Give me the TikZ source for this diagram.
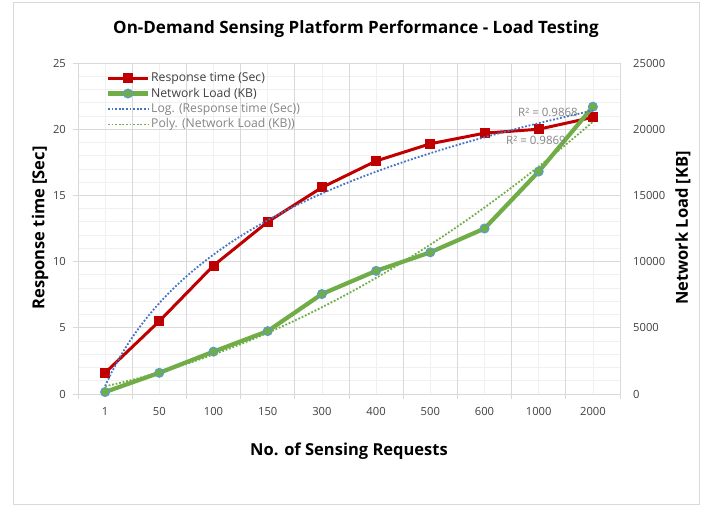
\documentclass[tikz,border=0pt]{standalone}
\usepackage{fontspec}
\setmainfont{Open Sans}
\usetikzlibrary{positioning}
\definecolor{rtred}{HTML}{C00000}
\definecolor{nlgreen}{HTML}{70AD47}
\definecolor{nlblue}{HTML}{5B9BD5}
\definecolor{trblue}{HTML}{4472C4}
\definecolor{gridmaj}{HTML}{D9D9D9}
\definecolor{gridmin}{HTML}{F0F0F0}
\definecolor{ticktxt}{HTML}{404040}
\definecolor{lgray}{HTML}{858585}
\tikzset{
  ticklab/.style={font=\fontsize{11.2}{13}\selectfont, text=ticktxt, inner sep=0pt},
  axtitle/.style={font=\fontsize{16.5}{18}\selectfont\bfseries, inner sep=0pt},
  legtext/.style={font=\fontsize{12.2}{14}\selectfont, inner sep=0pt, anchor=west},
  rtline/.style={rtred, line width=3pt},
  nlline/.style={nlgreen, line width=4.2pt, line join=round},
  rtmark/.style={fill=rtred, minimum size=10pt, inner sep=0pt},
  nlmark/.style={circle, fill=nlgreen, draw=nlblue, line width=1pt, minimum size=9pt, inner sep=0pt},
  logtrend/.style={trblue, line width=1.8pt, dash pattern=on 1.8pt off 1.8pt},
  polytrend/.style={nlgreen, line width=1.8pt, dash pattern=on 1.8pt off 1.8pt},
}
\begin{document}
\begin{tikzpicture}[x=1pt,y=-1pt]
	\useasboundingbox (0,0) rectangle (715,506);
	\fill[white] (0,0) rectangle (715,506);
	\draw[gridmaj, line width=1pt] (13,2.5) rectangle (699,504.5);
	\node[font=\fontsize{17}{20}\selectfont\bfseries, anchor=base, inner sep=0pt] (title) at (356,33) {On-Demand Sensing Platform Performance - Load Testing};
	\node[axtitle, rotate=90] (ytitle) at (40,228) {Response time [Sec]};
	\node[axtitle, rotate=90] (y2title) at (683,228) {Network Load [KB]};
	\node[axtitle, anchor=base] (xtitle) at (349,455) {No. of Sensing Requests};
	\begin{scope}[shift={(78,394)}, x=54.2pt, y=13.24pt]
		\foreach \k in {0,...,25} \draw[gridmin, line width=0.8pt] (0,\k) -- (10,\k);
		\foreach \k in {0.5,1.5,...,9.5} \draw[gridmin, line width=0.8pt] (\k,0) -- (\k,25);
		\foreach \k in {0,5,...,25} \draw[gridmaj, line width=0.8pt] (-0.09,\k) -- (10,\k);
		\foreach \k in {0,...,10} \draw[gridmaj, line width=0.8pt] (\k,-0.35) -- (\k,25);
		\foreach \k in {0,5,...,25} \node[ticklab, anchor=east] (yl\k) at (-0.22,\k) {\k};
		\foreach \k/\t in {0/0,5/5000,10/10000,15/15000,20/20000,25/25000}
			\node[ticklab, anchor=west] (yr\k) at (10.24,\k) {\t};
		\foreach \t [count=\i] in {1,50,100,150,300,400,500,600,1000,2000}
			\node[ticklab, anchor=base] (xl\i) at (\i-0.5,-1.6) {\t};
		\foreach \v [count=\i] in {1.6,5.5,9.7,13.0,15.6,17.6,18.9,19.7,20.0,20.9}
			\coordinate (rt\i) at (\i-0.5,\v);
		\foreach \v [count=\i] in {0.15,1.6,3.2,4.75,7.55,9.3,10.7,12.5,16.8,21.7}
			\coordinate (nl\i) at (\i-0.5,\v);
		\draw[rtline] (rt1) \foreach \i in {2,...,10}{-- (rt\i)};
		\foreach \i in {1,...,10} \node[rtmark] at (rt\i) {};
		\draw[nlline] (nl1) \foreach \i in {2,...,10}{-- (nl\i)};
		\foreach \i in {1,...,10} \node[nlmark] at (nl\i) {};
		\draw[logtrend] plot[domain=1:10, samples=80, smooth] ({\x-0.5},{0.6+9.037*ln(\x)});
		\draw[polytrend] plot[domain=1:10, samples=40, smooth] ({\x-0.5},{7.6235+2.2209*(\x-5.5)+0.14564*(\x-5.5)^2});
	\end{scope}
	\node[font=\fontsize{11.5}{13}\selectfont, text=lgray, anchor=west, inner sep=0pt] (r2a) at (518,112) {R² = 0.9868};
	\node[font=\fontsize{11.5}{13}\selectfont, text=lgray, anchor=west, inner sep=0pt] (r2b) at (506,140) {R² = 0.9869};
	\coordinate (lg1a) at (108,78);   \coordinate (lg1b) at (148,78);
	\coordinate (lg2a) at (108,93.5); \coordinate (lg2b) at (148,93.5);
	\coordinate (lg3a) at (108,109);  \coordinate (lg3b) at (148,109);
	\coordinate (lg4a) at (108,124.5);\coordinate (lg4b) at (148,124.5);
	\draw[rtline] (lg1a) -- (lg1b);
	\node[rtmark] at (128,78) {};
	\draw[nlline] (lg2a) -- (lg2b);
	\node[nlmark] at (128,93.5) {};
	\draw[logtrend] (lg3a) -- (lg3b);
	\draw[polytrend] (lg4a) -- (lg4b);
	\node[legtext, text=ticktxt, right=3pt of lg1b] (lt1) {Response time (Sec)};
	\node[legtext, text=ticktxt, right=3pt of lg2b] (lt2) {Network Load (KB)};
	\node[legtext, text=lgray, right=3pt of lg3b] (lt3) {Log. (Response time (Sec))};
	\node[legtext, text=lgray, right=3pt of lg4b] (lt4) {Poly. (Network Load (KB))};
\end{tikzpicture}
\end{document}
